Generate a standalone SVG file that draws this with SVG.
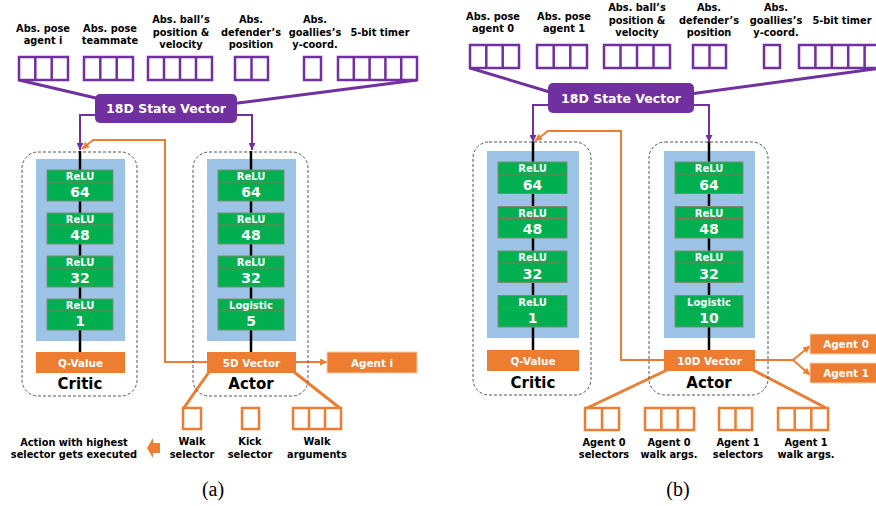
<svg xmlns="http://www.w3.org/2000/svg" width="876" height="506" viewBox="0 0 876 506">
  <style>
    .lbl { font-family: "DejaVu Sans", "Liberation Sans", sans-serif; font-weight: bold; font-size: 9.8px; fill: #000; text-anchor: middle; }
    .pcell { fill: #fff; stroke: #7030A0; stroke-width: 2.5; }
    .ocell { fill: #fff; stroke: #ED7D31; stroke-width: 2.5; }
    .state { fill: #7030A0; }
    .stateTxt { font-family: "DejaVu Sans", "Liberation Sans", sans-serif; font-weight: bold; font-size: 12.5px; fill: #fff; text-anchor: middle; }
    .frame { fill: none; stroke: #555; stroke-width: 1; stroke-dasharray: 3 2; }
    .panel { fill: #9DC3E6; }
    .spine { stroke: #000; stroke-width: 2.5; }
    .layer { fill: #00B050; stroke: #7b8f6f; stroke-width: 1; }
    .div { stroke: #7d7a55; stroke-width: 1; }
    .act { font-family: "DejaVu Sans", "Liberation Sans", sans-serif; font-weight: bold; font-size: 10px; fill: #fff; text-anchor: middle; }
    .num { font-family: "DejaVu Sans", "Liberation Sans", sans-serif; font-weight: bold; font-size: 14px; fill: #fff; text-anchor: middle; }
    .obox { fill: #ED7D31; }
    .agent { fill: #ED7D31; stroke: #f8cbad; stroke-width: 1; }
    .oTxt { font-family: "DejaVu Sans", "Liberation Sans", sans-serif; font-weight: bold; font-size: 10.4px; fill: #fff; text-anchor: middle; }
    .title { font-family: "DejaVu Sans", "Liberation Sans", sans-serif; font-weight: bold; font-size: 15px; fill: #000; text-anchor: middle; }
    .cap { font-family: "Liberation Serif", serif; font-size: 20px; fill: #000; text-anchor: middle; }
    .pl { fill: none; stroke: #7030A0; stroke-width: 2; }
    .plThick { fill: none; stroke: #7030A0; stroke-width: 3; }
    .ol { fill: none; stroke: #ED7D31; stroke-width: 2; }
    .olThick { fill: none; stroke: #ED7D31; stroke-width: 3; }
  </style>
  <defs>
    <marker id="arrP" viewBox="0 0 8 8" refX="8" refY="4" markerWidth="7" markerHeight="7" markerUnits="userSpaceOnUse" orient="auto">
      <path d="M0,0 L8,4 L0,8 z" fill="#7030A0"/>
    </marker>
    <marker id="arrO" viewBox="0 0 8 8" refX="8" refY="4" markerWidth="7" markerHeight="7" markerUnits="userSpaceOnUse" orient="auto">
      <path d="M0,0 L8,4 L0,8 z" fill="#ED7D31"/>
    </marker>
  </defs>
  <rect width="876" height="506" fill="#fff"/>

  <!-- connectors -->
  <g id="connectors">
    <!-- panel (a) -->
    <path class="plThick" d="M19,80 L100,99"/>
    <path class="plThick" d="M417,80 L230,104"/>
    <path class="pl" d="M96,115 H80 V150" marker-end="url(#arrP)"/>
    <path class="pl" d="M236,115 H252 V150" marker-end="url(#arrP)"/>
    <path class="ol" d="M208,362 H165 V140 H93 L82,149" marker-end="url(#arrO)"/>
    <path class="ol" d="M296,362 H327" marker-end="url(#arrO)"/>
    <path class="olThick" d="M209,372 L183,409"/>
    <path class="olThick" d="M294,372 L341,409"/>
    <!-- panel (b) -->
    <path class="plThick" d="M470,68 L553,93"/>
    <path class="plThick" d="M881,68 L690,94"/>
    <path class="pl" d="M549,105 H533 V142" marker-end="url(#arrP)"/>
    <path class="pl" d="M693,105 H709 V142" marker-end="url(#arrP)"/>
    <path class="ol" d="M665,360 H621 V131 H548 L535,141" marker-end="url(#arrO)"/>
    <path class="ol" d="M755,360 H793 L810,346" marker-end="url(#arrO)"/>
    <path class="ol" d="M793,360 L810,375" marker-end="url(#arrO)"/>
    <path class="olThick" d="M667,370 L585,409"/>
    <path class="olThick" d="M753,370 L828,409"/>
  </g>

  <!-- ===================== panel (a) ===================== -->
  <g id="a-in-pose-self">
    <text class="lbl" x="43" y="32">Abs. pose</text>
    <text class="lbl" x="43" y="44">agent i</text>
    <rect class="pcell" x="19" y="57" width="49" height="23"/>
    <path class="pcell" d="M35.3,57v23M51.7,57v23"/>
  </g>
  <g id="a-in-pose-mate">
    <text class="lbl" x="110" y="32">Abs. pose</text>
    <text class="lbl" x="110" y="44">teammate</text>
    <rect class="pcell" x="84" y="57" width="49" height="23"/>
    <path class="pcell" d="M100.3,57v23M116.7,57v23"/>
  </g>
  <g id="a-in-ball">
    <text class="lbl" x="181" y="23">Abs. ball’s</text>
    <text class="lbl" x="181" y="36">position &amp;</text>
    <text class="lbl" x="181" y="48">velocity</text>
    <rect class="pcell" x="148" y="57" width="64" height="23"/>
    <path class="pcell" d="M164,57v23M180,57v23M196,57v23"/>
  </g>
  <g id="a-in-defender">
    <text class="lbl" x="251" y="23">Abs.</text>
    <text class="lbl" x="251" y="36">defender’s</text>
    <text class="lbl" x="251" y="48">position</text>
    <rect class="pcell" x="235" y="57" width="33" height="23"/>
    <path class="pcell" d="M251.5,57v23"/>
  </g>
  <g id="a-in-goalie">
    <text class="lbl" x="315" y="23">Abs.</text>
    <text class="lbl" x="315" y="36">goallies’s</text>
    <text class="lbl" x="315" y="48">y-coord.</text>
    <rect class="pcell" x="304" y="57" width="17" height="23"/>
  </g>
  <g id="a-in-timer">
    <text class="lbl" x="380" y="36">5-bit timer</text>
    <rect class="pcell" x="338" y="57" width="79" height="23"/>
    <path class="pcell" d="M353.8,57v23M369.6,57v23M385.4,57v23M401.2,57v23"/>
  </g>
  <g id="a-state">
    <rect class="state" x="95" y="94" width="142" height="29" rx="5"/>
    <text class="stateTxt" x="166" y="113">18D State Vector</text>
  </g>

  <g id="a-critic">
    <rect class="frame" x="22" y="152" width="115" height="244" rx="16"/>
    <rect class="panel" x="36" y="159" width="89" height="182"/>
    <line class="spine" x1="80" y1="151" x2="80" y2="352"/>
    <rect class="layer" x="47" y="170" width="66" height="31"/><line class="div" x1="47" y1="182" x2="113" y2="182"/>
    <text class="act" x="80" y="180">ReLU</text><text class="num" x="80" y="197">64</text>
    <rect class="layer" x="47" y="213" width="66" height="31"/><line class="div" x1="47" y1="225" x2="113" y2="225"/>
    <text class="act" x="80" y="223">ReLU</text><text class="num" x="80" y="240">48</text>
    <rect class="layer" x="47" y="256" width="66" height="31"/><line class="div" x1="47" y1="268" x2="113" y2="268"/>
    <text class="act" x="80" y="266">ReLU</text><text class="num" x="80" y="283">32</text>
    <rect class="layer" x="47" y="299" width="66" height="31"/><line class="div" x1="47" y1="311" x2="113" y2="311"/>
    <text class="act" x="80" y="309">ReLU</text><text class="num" x="80" y="326">1</text>
    <rect class="obox" x="36" y="352" width="89" height="21"/>
    <text class="oTxt" x="80.5" y="366.5">Q-Value</text>
    <text class="title" x="80" y="389">Critic</text>
  </g>

  <g id="a-actor">
    <rect class="frame" x="193" y="152" width="115" height="244" rx="16"/>
    <rect class="panel" x="207" y="159" width="89" height="182"/>
    <line class="spine" x1="251" y1="151" x2="251" y2="352"/>
    <rect class="layer" x="218" y="170" width="66" height="31"/><line class="div" x1="218" y1="182" x2="284" y2="182"/>
    <text class="act" x="251" y="180">ReLU</text><text class="num" x="251" y="197">64</text>
    <rect class="layer" x="218" y="213" width="66" height="31"/><line class="div" x1="218" y1="225" x2="284" y2="225"/>
    <text class="act" x="251" y="223">ReLU</text><text class="num" x="251" y="240">48</text>
    <rect class="layer" x="218" y="256" width="66" height="31"/><line class="div" x1="218" y1="268" x2="284" y2="268"/>
    <text class="act" x="251" y="266">ReLU</text><text class="num" x="251" y="283">32</text>
    <rect class="layer" x="218" y="299" width="66" height="31"/><line class="div" x1="218" y1="311" x2="284" y2="311"/>
    <text class="act" x="251" y="309">Logistic</text><text class="num" x="251" y="326">5</text>
    <rect class="obox" x="207" y="352" width="89" height="21"/>
    <text class="oTxt" x="251.5" y="366.5">5D Vector</text>
    <text class="title" x="251" y="389">Actor</text>
  </g>

  <g id="a-agent">
    <rect class="agent" x="327" y="352" width="90" height="21"/>
    <text class="oTxt" x="372" y="366.5">Agent i</text>
  </g>

  <g id="a-out-walk-sel">
    <rect class="ocell" x="183" y="408" width="18" height="21"/>
    <text class="lbl" x="192" y="445">Walk</text>
    <text class="lbl" x="192" y="458">selector</text>
  </g>
  <g id="a-out-kick-sel">
    <rect class="ocell" x="242" y="408" width="17" height="21"/>
    <text class="lbl" x="250" y="445">Kick</text>
    <text class="lbl" x="250" y="458">selector</text>
  </g>
  <g id="a-out-walk-args">
    <rect class="ocell" x="293" y="408" width="48" height="21"/>
    <path class="ocell" d="M309,408v21M325,408v21"/>
    <text class="lbl" x="317" y="445">Walk</text>
    <text class="lbl" x="317" y="458">arguments</text>
  </g>
  <g id="a-rule">
    <path d="M147,448 L153,438 L153,443 L160,443 L160,453 L153,453 L153,458 z" fill="#ED7D31"/>
    <text class="lbl" x="74" y="446">Action with highest</text>
    <text class="lbl" x="74" y="458">selector gets executed</text>
  </g>
  <text class="cap" x="213" y="496">(a)</text>

  <!-- ===================== panel (b) ===================== -->
  <g id="b-in-pose-0">
    <text class="lbl" x="493" y="20">Abs. pose</text>
    <text class="lbl" x="493" y="32">agent 0</text>
    <rect class="pcell" x="470" y="45" width="49" height="23"/>
    <path class="pcell" d="M486.3,45v23M502.7,45v23"/>
  </g>
  <g id="b-in-pose-1">
    <text class="lbl" x="564" y="20">Abs. pose</text>
    <text class="lbl" x="564" y="32">agent 1</text>
    <rect class="pcell" x="537" y="45" width="50" height="23"/>
    <path class="pcell" d="M553.7,45v23M570.3,45v23"/>
  </g>
  <g id="b-in-ball">
    <text class="lbl" x="637" y="11">Abs. ball’s</text>
    <text class="lbl" x="637" y="24">position &amp;</text>
    <text class="lbl" x="637" y="36">velocity</text>
    <rect class="pcell" x="604" y="45" width="66" height="23"/>
    <path class="pcell" d="M620.5,45v23M637,45v23M653.5,45v23"/>
  </g>
  <g id="b-in-defender">
    <text class="lbl" x="709" y="11">Abs.</text>
    <text class="lbl" x="709" y="24">defender’s</text>
    <text class="lbl" x="709" y="36">position</text>
    <rect class="pcell" x="693" y="45" width="33" height="23"/>
    <path class="pcell" d="M709.5,45v23"/>
  </g>
  <g id="b-in-goalie">
    <text class="lbl" x="776" y="11">Abs.</text>
    <text class="lbl" x="776" y="24">goallies’s</text>
    <text class="lbl" x="776" y="36">y-coord.</text>
    <rect class="pcell" x="764" y="45" width="16" height="23"/>
  </g>
  <g id="b-in-timer">
    <text class="lbl" x="842" y="24">5-bit timer</text>
    <rect class="pcell" x="799" y="45" width="82" height="23"/>
    <path class="pcell" d="M815.4,45v23M831.8,45v23M848.2,45v23M864.6,45v23"/>
  </g>
  <g id="b-state">
    <rect class="state" x="548" y="83" width="146" height="30" rx="5"/>
    <text class="stateTxt" x="621" y="102.5">18D State Vector</text>
  </g>

  <g id="b-critic">
    <rect class="frame" x="473" y="142" width="118" height="253" rx="16"/>
    <rect class="panel" x="487" y="151" width="92" height="187"/>
    <line class="spine" x1="533" y1="142" x2="533" y2="350"/>
    <rect class="layer" x="498" y="162" width="69" height="31.5"/><line class="div" x1="498" y1="174" x2="567" y2="174"/>
    <text class="act" x="532.5" y="172">ReLU</text><text class="num" x="532.5" y="189.5">64</text>
    <rect class="layer" x="498" y="206.5" width="69" height="31.5"/><line class="div" x1="498" y1="218.5" x2="567" y2="218.5"/>
    <text class="act" x="532.5" y="216.5">ReLU</text><text class="num" x="532.5" y="234">48</text>
    <rect class="layer" x="498" y="251" width="69" height="31.5"/><line class="div" x1="498" y1="263" x2="567" y2="263"/>
    <text class="act" x="532.5" y="261">ReLU</text><text class="num" x="532.5" y="278.5">32</text>
    <rect class="layer" x="498" y="295.5" width="69" height="31.5"/><line class="div" x1="498" y1="307.5" x2="567" y2="307.5"/>
    <text class="act" x="532.5" y="305.5">ReLU</text><text class="num" x="532.5" y="323">1</text>
    <rect class="obox" x="487" y="350" width="92" height="21"/>
    <text class="oTxt" x="533" y="364.5">Q-Value</text>
    <text class="title" x="533" y="388">Critic</text>
  </g>

  <g id="b-actor">
    <rect class="frame" x="649" y="142" width="119" height="253" rx="16"/>
    <rect class="panel" x="664" y="151" width="91" height="187"/>
    <line class="spine" x1="709" y1="142" x2="709" y2="350"/>
    <rect class="layer" x="675" y="162" width="68" height="31.5"/><line class="div" x1="675" y1="174" x2="743" y2="174"/>
    <text class="act" x="709" y="172">ReLU</text><text class="num" x="709" y="189.5">64</text>
    <rect class="layer" x="675" y="206.5" width="68" height="31.5"/><line class="div" x1="675" y1="218.5" x2="743" y2="218.5"/>
    <text class="act" x="709" y="216.5">ReLU</text><text class="num" x="709" y="234">48</text>
    <rect class="layer" x="675" y="251" width="68" height="31.5"/><line class="div" x1="675" y1="263" x2="743" y2="263"/>
    <text class="act" x="709" y="261">ReLU</text><text class="num" x="709" y="278.5">32</text>
    <rect class="layer" x="675" y="295.5" width="68" height="31.5"/><line class="div" x1="675" y1="307.5" x2="743" y2="307.5"/>
    <text class="act" x="709" y="305.5">Logistic</text><text class="num" x="709" y="323">10</text>
    <rect class="obox" x="664" y="350" width="91" height="21"/>
    <text class="oTxt" x="709.5" y="364.5">10D Vector</text>
    <text class="title" x="709" y="388">Actor</text>
  </g>

  <g id="b-agent-0">
    <rect class="agent" x="810" y="334" width="72" height="20"/>
    <text class="oTxt" x="846" y="348">Agent 0</text>
  </g>
  <g id="b-agent-1">
    <rect class="agent" x="810" y="363" width="72" height="20"/>
    <text class="oTxt" x="846" y="377">Agent 1</text>
  </g>

  <g id="b-out-a0-sel">
    <rect class="ocell" x="585" y="408" width="34" height="22"/>
    <path class="ocell" d="M602,408v22"/>
    <text class="lbl" x="604" y="446">Agent 0</text>
    <text class="lbl" x="604" y="458">selectors</text>
  </g>
  <g id="b-out-a0-walk">
    <rect class="ocell" x="645" y="408" width="49" height="22"/>
    <path class="ocell" d="M661.3,408v22M677.7,408v22"/>
    <text class="lbl" x="669" y="446">Agent 0</text>
    <text class="lbl" x="669" y="458">walk args.</text>
  </g>
  <g id="b-out-a1-sel">
    <rect class="ocell" x="719" y="408" width="33" height="22"/>
    <path class="ocell" d="M735.5,408v22"/>
    <text class="lbl" x="738" y="446">Agent 1</text>
    <text class="lbl" x="738" y="458">selectors</text>
  </g>
  <g id="b-out-a1-walk">
    <rect class="ocell" x="778" y="408" width="50" height="22"/>
    <path class="ocell" d="M794.7,408v22M811.3,408v22"/>
    <text class="lbl" x="806" y="446">Agent 1</text>
    <text class="lbl" x="806" y="458">walk args.</text>
  </g>
  <text class="cap" x="678" y="496">(b)</text>
</svg>
